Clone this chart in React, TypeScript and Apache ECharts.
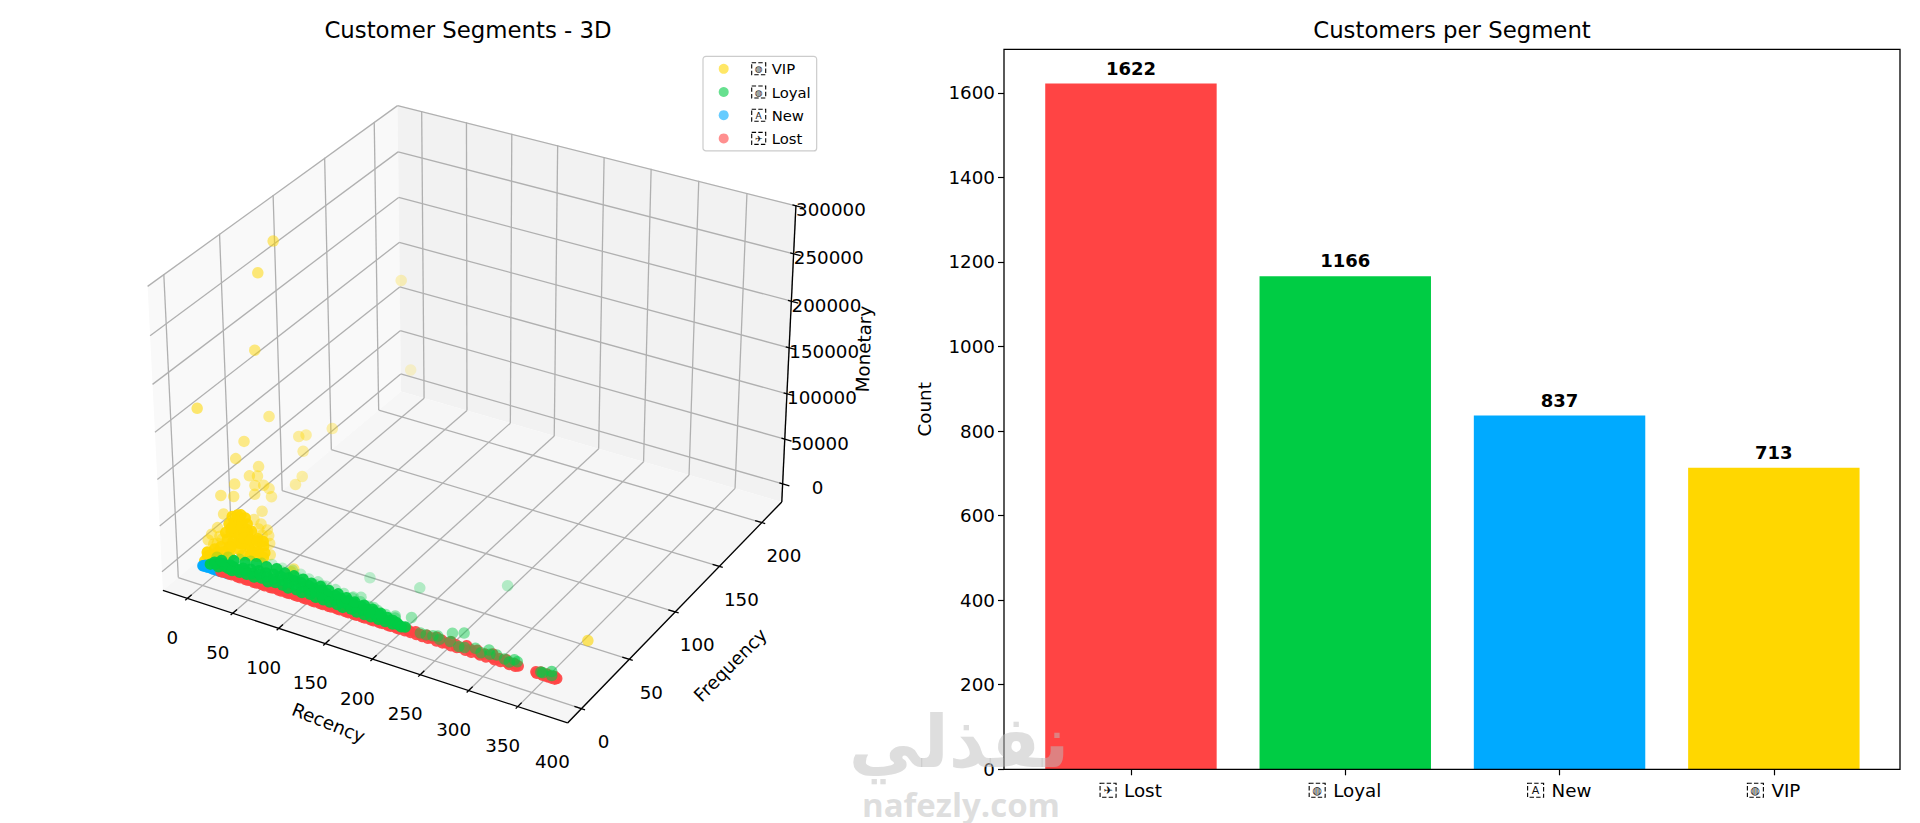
import React, { useEffect, useRef } from "react";
import * as echarts from "echarts";

const FONT = "DejaVu Sans";
const segments = ["Lost", "Loyal", "New", "VIP"];
const counts = [1622, 1166, 837, 713];
const segColors: any = { Lost: "#FF4444", Loyal: "#00CC44", New: "#00AAFF", VIP: "#FFD700" };
const segIcons: any = { Lost: "✈", Loyal: "◍", New: "A", VIP: "◍" };
const legendOrder = ["VIP", "Loyal", "New", "Lost"];
const countTicks = [0, 200, 400, 600, 800, 1000, 1200, 1400, 1600];
const recencyTicks = [0, 50, 100, 150, 200, 250, 300, 350, 400];
const frequencyTicks = [0, 50, 100, 150, 200];
const monetaryTicks = [0, 50000, 100000, 150000, 200000, 250000, 300000];
const recencyLim = [-18.65, 391.65];
const frequencyLim = [-9.4, 219.4];
const monetaryLim = [-14010, 294216];

// [recency, frequency, monetary]
const vipCore = [
  [1,2,5000],[2,4,9000],[3,3,14000],[2,7,6000],[4,9,12000],[3,12,5000],[5,14,10000],[7,15,4000],
  [6,18,22000],[5,20,12000],[8,19,6000],[4,23,26000],[6,23,18000],[9,22,10000],[3,27,30000],[5,27,24000],[7,26,14000],[10,25,5000],
  [4,31,28000],[6,30,20000],[8,29,11000],[12,27,3000],[3,35,24000],[5,34,16000],[8,33,9000],[11,31,4000],[4,38,18000],[6,38,12000],
  [9,36,6000],[15,33,2000],[18,28,3000],[22,26,2500],[25,30,1500],[28,24,2000],[32,26,1500],[35,22,1000],[30,20,2000],[24,18,3000],
  [18,20,5000],[14,14,4000],[10,10,3000],[7,7,4000],[12,17,8000],[16,24,7000],[3,5,3000],[20,36,2000],
  [5,24,21000],[7,32,15000],[10,34,11000],[13,36,8000],[12,30,12000],[15,27,10000],[19,30,6000],[23,33,3500],[27,35,2000],[31,32,1200],[38,27,800],[41,23,700],
];
const vipOutliers = [
  [1,75,280206],[1,60,259657],[1,200,135000],[1,209,26000],[2,54,184000],[0,2,168472],[1,66,102000],[10,119,43000],[3,92,57000],[2,100,51000],
  [1,42,97000],[4,95,38000],[2,33,87000],[3,53,60000],[2,45,57000],[5,50,53000],[1,96,8000],[6,85,11000],[1,32,60000],[3,49,43000],
  [8,53,41000],[2,63,26000],[1,19,60000],[3,29,50000],[6,46,37000],[2,65,15000],[4,54,10000],[2,20,39000],[20,40,2000],[85,14,11000],
  [82,14,7000],[372,35,6000],[14,42,5000],[20,45,3000],[25,42,1000],[12,46,6000],[1,6,24000],[0,10,26000],[2,14,30000],[9,42,14000],[33,36,900],[44,27,600],
  [1,5,12000],[2,10,16000],[3,15,20000],[4,16,16000],[6,10,18000],
];
const loyalCore = [
  [6,3,2000],[7,6,1500],[10,4,2500],[12,7,1200],[15,3,2000],[17,6,3000],[20,5,1800],[22,8,1100],[25,4,2200],[27,7,1600],[30,3,2600],[32,6,1300],
  [35,9,900],[37,4,2100],[40,7,1700],[42,10,1000],[45,4,2300],[48,7,1400],[50,11,800],[53,4,1900],[55,8,1500],[58,11,1100],[60,5,2000],[63,8,1200],
  [65,12,900],[68,4,1700],[70,8,1300],[73,12,1000],[75,5,2100],[78,9,1500],[80,13,800],[83,5,1800],[85,9,1200],[88,12,1000],[90,4,1900],[93,8,1400],
  [95,12,1100],[98,5,1600],[100,9,1200],[103,12,900],[105,4,1700],[108,8,1300],[110,11,1000],[113,5,1500],[115,9,1100],[118,12,800],[120,4,1400],[123,7,1200],
  [125,10,1000],[128,4,1500],[130,8,1100],[133,11,700],[135,4,1300],[138,7,1000],[140,10,800],[143,4,1200],[145,7,1000],[148,10,700],[150,3,1300],[153,6,900],
  [155,9,700],[158,4,1100],[160,7,800],[163,9,600],[165,3,1200],[168,6,900],[170,8,700],[173,3,1000],[175,6,800],[178,8,600],[180,3,900],[183,5,700],
  [185,7,600],[188,3,800],[190,5,700],[193,7,500],[195,3,800],[198,5,600],[200,6,500],[203,3,700],[205,5,600],[208,4,500],[212,3,600],[215,4,500],
  [15,6,6000],[25,9,6000],[35,11,5000],[45,13,5000],[55,14,4000],[65,15,4000],[75,14,3500],[85,14,3500],[95,14,3000],[105,13,3000],[115,13,2500],[125,12,2500],[135,12,2000],[145,11,2000],[155,10,1800],[165,10,1500],[175,9,1300],[185,8,1200],
];
const loyalOutliers = [
  [146,33,2000],[194,38,1500],[262,62,1800],[87,15,1500],[108,14,1400],[114,15,1200],[68,16,1700],[149,14,1000],[155,16,800],[174,11,900],[198,10,700],
  [212,13,600],[232,3,700],[248,5,600],[257,11,500],[266,14,500],[273,2,700],[299,7,600],[309,5,500],[330,5,500],[356,3,400],[364,6,400],
  [238,3,600],[244,4,500],[252,3,500],[262,4,500],[278,3,400],[287,5,400],[295,3,500],[303,4,400],[318,4,400],[324,3,300],[326,6,300],[358,3,300],[367,3,300],
  [10,6,8000],[20,8,9000],[30,10,8000],[40,12,7000],[50,14,6000],[60,15,7000],[70,16,5000],[80,17,5000],[90,16,5000],[100,15,4000],[110,15,4000],[120,14,3500],
  [130,14,3000],[140,13,3000],[150,12,2500],[160,11,2500],[170,10,2000],[180,9,2000],[190,8,1500],[200,8,1200],
];
const newCore = [
  [0,1,300],[1,1,500],[2,2,400],[4,1,350],[6,1,600],[8,2,300],[10,1,450],[12,1,380],[15,1,520],[18,1,300],[21,1,420],[24,2,350],[27,1,400],
];
const lostCore = [
  [20,1,300],[23,1,500],[26,2,250],[29,1,400],[32,1,650],[35,2,300],[38,1,450],[41,1,280],[44,2,520],[47,1,350],[50,1,300],[53,2,480],
  [56,1,260],[59,1,410],[62,2,330],[65,1,520],[68,1,290],[71,2,400],[74,1,310],[77,1,560],[80,2,270],[83,1,440],[86,1,320],[89,2,510],
  [92,1,300],[95,1,420],[98,2,280],[101,1,470],[104,1,350],[107,2,300],[110,1,520],[113,1,390],[116,2,260],[119,1,430],[122,1,310],[125,2,480],
  [128,1,340],[131,1,290],[134,2,460],[137,1,320],[140,1,410],[143,2,280],[146,1,500],[149,1,360],[152,2,300],[155,1,440],[158,1,270],[161,2,380],
  [164,1,330],[167,1,490],[170,2,290],[173,1,400],[176,1,310],[179,2,520],[182,1,350],[185,1,280],[188,2,430],[191,1,300],[194,1,470],[197,2,340],
  [200,1,290],[203,1,410],[206,2,320],[209,1,500],[212,1,360],[215,3,270],[218,1,420],[221,2,310],[224,1,480],[227,3,290],[230,1,350],[233,2,430],
  [236,1,300],[239,3,390],[242,1,270],[245,2,460],[248,4,320],[251,1,280],[254,3,410],[257,1,350],[260,2,300],[263,4,440],[266,1,290],[269,3,380],
  [272,1,310],[275,2,470],[278,5,260],[281,1,400],[284,3,330],[287,1,290],[290,4,420],[293,2,310],[296,1,480],[299,3,270],[302,1,360],[305,5,300],
  [308,2,410],[311,1,280],[314,3,350],[317,1,440],[320,4,300],[323,2,380],[326,1,270],[329,3,330],[332,1,420],[334,2,290],
  [352,2,300],[354,1,380],[356,3,270],[358,2,350],[360,1,310],[362,3,420],[364,1,280],[366,2,360],[368,1,300],[370,3,260],[372,1,340],[373,2,300],
];

const paneRange = (l: number[]) => [l[0] - (l[1] - l[0]) / 48, l[1] + (l[1] - l[0]) / 48];
const [xp0, xp1] = paneRange(recencyLim);
const [yp0, yp1] = paneRange(frequencyLim);
const [zp0, zp1] = paneRange(monetaryLim);
const BX = 1.1905, BY = 1.1905, BZ = 0.8929;

// matplotlib's default 3D view: elev 30, azim -60, dist 10
function project(r: number, f: number, m: number) {
  const dx = ((r - recencyLim[0]) / (recencyLim[1] - recencyLim[0]) - 0.5) * BX;
  const dy = ((f - frequencyLim[0]) / (frequencyLim[1] - frequencyLim[0]) - 0.5) * BY;
  const dz = ((m - monetaryLim[0]) / (monetaryLim[1] - monetaryLim[0]) - 0.5) * BZ;
  const xc = 0.866025 * dx + 0.5 * dy;
  const yc = -0.25 * dx + 0.433013 * dy + 0.866025 * dz;
  const depth = 10 - (0.433013 * dx - 0.75 * dy + 0.5 * dz);
  return [478.3 + (3737 * xc) / depth, 398.5 - (3730 * yc) / depth, depth];
}

type Prim = any;
const panes: Prim[] = [
  { poly: [[xp0, yp0, zp0], [xp0, yp1, zp0], [xp0, yp1, zp1], [xp0, yp0, zp1]], fill: "#f9f9f9" },
  { poly: [[xp0, yp1, zp0], [xp1, yp1, zp0], [xp1, yp1, zp1], [xp0, yp1, zp1]], fill: "#f2f2f2" },
  { poly: [[xp0, yp0, zp0], [xp1, yp0, zp0], [xp1, yp1, zp0], [xp0, yp1, zp0]], fill: "#f6f6f6" },
];
const lines: Prim[] = [];
const grid = "#b0b0b0";
const addLine = (a: number[], b: number[], color: string, w: number) => lines.push({ a, b, color, w });
recencyTicks.forEach((t) => {
  addLine([t, yp0, zp0], [t, yp1, zp0], grid, 1.3);
  addLine([t, yp1, zp0], [t, yp1, zp1], grid, 1.3);
});
frequencyTicks.forEach((t) => {
  addLine([xp1, t, zp0], [xp0, t, zp0], grid, 1.3);
  addLine([xp0, t, zp0], [xp0, t, zp1], grid, 1.3);
});
monetaryTicks.forEach((t) => {
  addLine([xp1, yp1, t], [xp0, yp1, t], grid, 1.3);
  addLine([xp0, yp1, t], [xp0, yp0, t], grid, 1.3);
});
addLine([xp0, yp0, zp0], [xp1, yp0, zp0], "#000", 1.3);
addLine([xp1, yp0, zp0], [xp1, yp1, zp0], "#000", 1.3);
addLine([xp1, yp1, zp0], [xp1, yp1, zp1], "#000", 1.3);
const dTickY = (yp1 - yp0) / 12;
const dTickX = (xp1 - xp0) / 12;
recencyTicks.filter((t) => t < 400).forEach((t) => addLine([t, yp0 + 0.2 * dTickY, zp0], [t, yp0 - 0.1 * dTickY, zp0], "#000", 1.3));
frequencyTicks.forEach((t) => addLine([xp1 - 0.2 * dTickX, t, zp0], [xp1 + 0.1 * dTickX, t, zp0], "#000", 1.3));
monetaryTicks.forEach((t) => addLine([xp1 - 0.1 * dTickX, yp1, t], [xp1 + 0.2 * dTickX, yp1, t], "#000", 1.3));

const texts: Prim[] = [];
const addText = (text: string, p: number[], ox: number, oy: number, rot = 0, size = 18.3) => {
  const q = project(p[0], p[1], p[2]);
  texts.push({ text, x: q[0] + ox, y: q[1] + oy, rot, size });
};
recencyTicks.forEach((t) => addText(String(t), [t, yp0, zp0], -15, 39));
frequencyTicks.forEach((t) => addText(String(t), [xp1, t, zp0], 22, 33));
monetaryTicks.forEach((t) => addText(String(t), [xp1, yp1, t], 35, 4));
addText("Recency", [180, yp0, zp0], -25, 70, -22);
addText("Frequency", [xp1, 100, zp0], 55, 53, 45);
addText("Monetary", [xp1, yp1, 140000], 75, -8, 88);

const withDepth = (core: number[][], outliers: number[][]) => {
  const all = core.concat(outliers).map((p) => project(p[0], p[1], p[2])[2]);
  const lo = Math.min(...all), hi = Math.max(...all);
  const shade = (p: number[]) => {
    const q = project(p[0], p[1], p[2]);
    return { value: [q[0], q[1]], itemStyle: { opacity: 0.6 * (1 - (0.7 * (q[2] - lo)) / (hi - lo)) } };
  };
  const solid = (p: number[]) => {
    const q = project(p[0], p[1], p[2]);
    return { value: [q[0], q[1]], itemStyle: { opacity: 0.92 } };
  };
  return [...outliers.map(shade), ...core.map(solid)];
};

const scatter = (name: string, core: number[][], outliers: number[][], z: number) => ({
  type: "scatter",
  name,
  xAxisIndex: 0,
  yAxisIndex: 0,
  z,
  silent: true,
  symbol: "circle",
  symbolSize: 11.5,
  itemStyle: { color: segColors[name], opacity: 0.6 },
  data: withDepth(core, outliers),
});

export default function App() {
  const ref = useRef<HTMLDivElement>(null);
  useEffect(() => {
    document.body.style.margin = "0";
    const chart = echarts.init(ref.current!, null, { renderer: "svg" });
    const richLabel = (size: number, boxSize: number, gap: number) => ({
      icon: {
        fontFamily: FONT,
        fontSize: boxSize,
        color: "#111",
        borderColor: "#000",
        borderWidth: 1.1,
        borderType: "dashed",
        padding: [2, 2, 1, 2],
        width: boxSize + 1,
        align: "center",
      },
      txt: { fontFamily: FONT, fontSize: size, color: "#000", padding: [0, 0, 0, gap] },
    });
    chart.setOption({
      animation: false,
      backgroundColor: "#fff",
      title: [
        { text: "Customer Segments - 3D", left: 463, top: 13.5, textAlign: "center", textStyle: { fontFamily: FONT, fontSize: 22.8, fontWeight: "normal", color: "#000" } },
        { text: "Customers per Segment", left: 1447, top: 13.5, textAlign: "center", textStyle: { fontFamily: FONT, fontSize: 22.8, fontWeight: "normal", color: "#000" } },
      ],
      legend: {
        data: legendOrder,
        orient: "vertical",
        left: 703,
        top: 56.3,
        itemWidth: 46,
        itemHeight: 10,
        itemGap: 8.2,
        padding: [5, 6, 5, 15.7],
        backgroundColor: "rgba(255,255,255,0.8)",
        borderColor: "#ccc",
        borderWidth: 1.2,
        borderRadius: 3,
        selectedMode: false,
        icon: "circle",
        formatter: (n: string) => `{icon|${segIcons[n]}}{txt|${n}}`,
        textStyle: { fontFamily: FONT, fontSize: 14.8, rich: richLabel(14.8, 9, 6) },
      },
      grid: [
        { left: 0, top: 0, width: 1920, height: 823, show: false },
        { left: 1023.8, top: 49.3, width: 857.2, height: 720, show: false },
      ],
      xAxis: [
        { type: "value", gridIndex: 0, min: 0, max: 1920, show: false },
        {
          type: "category",
          gridIndex: 1,
          data: segments,
          axisLine: { show: false },
          axisTick: { show: true, alignWithLabel: true, length: 6, lineStyle: { color: "#000", width: 1.2 } },
          axisLabel: {
            margin: 12,
            interval: 0,
            fontFamily: FONT,
            fontSize: 18.3,
            color: "#000",
            formatter: (n: string) => `{icon|${segIcons[n]}}{txt|${n}}`,
            rich: richLabel(18.3, 11, 8),
          },
        },
      ],
      yAxis: [
        { type: "value", gridIndex: 0, min: 0, max: 823, inverse: true, show: false },
        {
          type: "value",
          gridIndex: 1,
          min: 0,
          max: 1703.1,
          offset: 19.8,
          splitLine: { show: false },
          axisLine: { show: false },
          axisTick: { show: true, length: 6, customValues: countTicks, lineStyle: { color: "#000", width: 1.2 } },
          axisLabel: { customValues: countTicks, formatter: (v: number) => String(v), fontFamily: FONT, fontSize: 18.3, color: "#000", margin: 9 },
          name: "Count",
          nameLocation: "middle",
          nameGap: 71,
          nameTextStyle: { fontFamily: FONT, fontSize: 18.3, color: "#000" },
        },
      ],
      graphic: [
        { type: "rect", z: 50, shape: { x: 1004, y: 49.3, width: 896, height: 720 }, style: { fill: "none", stroke: "#000", lineWidth: 1.3 } },
        { type: "text", z: 60, x: 959, y: 742, style: { text: "نفذلي", fontFamily: FONT, fontSize: 72, fontWeight: "bold", fill: "rgba(190,190,190,0.5)", align: "center", verticalAlign: "middle" } },
        { type: "text", z: 60, x: 961, y: 804, style: { text: "nafezly.com", fontFamily: "Open Sans", fontSize: 33, fontWeight: "bold", fill: "rgba(190,190,190,0.5)", align: "center", verticalAlign: "middle" } },
      ],
      series: [
        {
          type: "custom",
          xAxisIndex: 0,
          yAxisIndex: 0,
          z: 1,
          silent: true,
          clip: false,
          data: panes.map((_, i) => [i, i]),
          renderItem: (p: any, api: any) => {
            const it = panes[p.dataIndex];
            return {
              type: "polygon",
              shape: { points: it.poly.map((c: number[]) => { const q = project(c[0], c[1], c[2]); return api.coord([q[0], q[1]]); }) },
              style: { fill: it.fill, stroke: "none" },
            };
          },
        },
        {
          type: "custom",
          xAxisIndex: 0,
          yAxisIndex: 0,
          z: 2,
          silent: true,
          clip: false,
          data: lines.map((_, i) => [i, i]),
          renderItem: (p: any, api: any) => {
            const it = lines[p.dataIndex];
            const a = project(it.a[0], it.a[1], it.a[2]);
            const b = project(it.b[0], it.b[1], it.b[2]);
            const pa = api.coord([a[0], a[1]]);
            const pb = api.coord([b[0], b[1]]);
            return {
              type: "line",
              shape: { x1: pa[0], y1: pa[1], x2: pb[0], y2: pb[1] },
              style: { stroke: it.color, lineWidth: it.w, fill: "none" },
            };
          },
        },
        {
          type: "custom",
          xAxisIndex: 0,
          yAxisIndex: 0,
          z: 3,
          silent: true,
          clip: false,
          data: texts.map((_, i) => [i, i]),
          renderItem: (p: any, api: any) => {
            const it = texts[p.dataIndex];
            const q = api.coord([it.x, it.y]);
            return {
              type: "text",
              x: q[0],
              y: q[1],
              rotation: (it.rot * Math.PI) / 180,
              style: { text: it.text, fontFamily: FONT, fontSize: it.size, fill: "#000", align: "center", verticalAlign: "middle" },
            };
          },
        },
        scatter("VIP", vipCore, vipOutliers, 4),
        scatter("New", newCore, [], 5),
        scatter("Lost", lostCore, [], 6),
        scatter("Loyal", loyalCore, loyalOutliers, 7),
        {
          type: "bar",
          xAxisIndex: 1,
          yAxisIndex: 1,
          z: 8,
          silent: true,
          barCategoryGap: "20%",
          data: segments.map((s, i) => ({ value: counts[i], itemStyle: { color: segColors[s] } })),
          label: { show: true, position: "top", distance: 6.4, fontFamily: FONT, fontSize: 18, fontWeight: "bold", color: "#000" },
        },
      ],
    });
    return () => chart.dispose();
  }, []);
  return <div ref={ref} style={{ position: "absolute", left: 0, top: 0, width: 1920, height: 823 }} />;
}
